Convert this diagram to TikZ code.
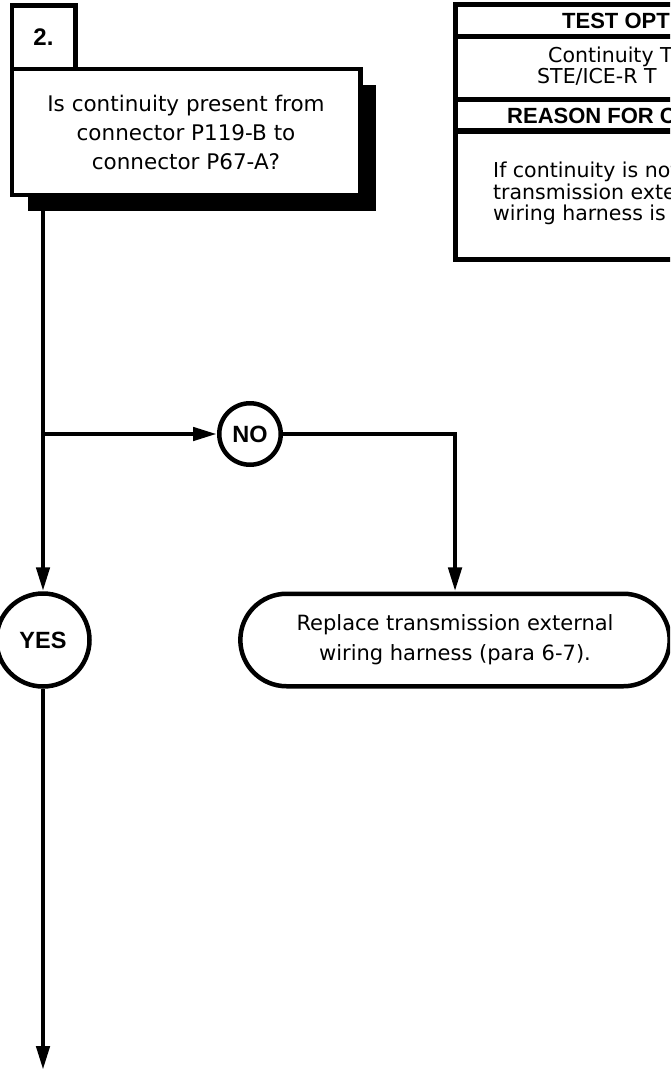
\documentclass[tikz,border=0pt]{standalone}
\usepackage{fontspec}
\setmainfont{DejaVu Sans}
\newfontfamily\headfont{Liberation Sans}
\usetikzlibrary{arrows.meta,shapes.misc,shadows}

\tikzset{
  box/.style={draw, fill=white, line width=4.5pt, outer sep=0pt, align=center},
  answer/.style={circle, draw, fill=white, line width=4.5pt, inner sep=0pt,
    font=\headfont\bfseries\fontsize{23.5}{26}\selectfont},
  flow/.style={line width=4.5pt, -{Triangle[length=24pt,width=13pt]}},
  tablehead/.style={anchor=base west, inner sep=0pt,
    font=\headfont\bfseries\fontsize{22}{24}\selectfont},
  tabletext/.style={anchor=base west, inner sep=0pt, align=left,
    font=\fontsize{20.5}{21.5}\selectfont},
}

\begin{document}
\begin{tikzpicture}[x=1pt,y=-1pt]
    \clip (0,0) rectangle (670,1070);

    % question block with its number tab and the black shadow
    \node[box, minimum width=348.5pt, minimum height=126pt,
      font=\fontsize{21.5}{29}\selectfont,
      drop shadow={shadow xshift=16pt, shadow yshift=-16pt, opacity=1, fill=black}]
      (question) at (186,132) {Is continuity present from\\connector P119-B to\\connector P67-A?};
    \node[box, minimum width=63.5pt, minimum height=63.5pt, anchor=south west,
      font=\headfont\bfseries\fontsize{24}{26}\selectfont] (step) at (question.north west) {2.};

    % test options table, runs past the right edge
    \draw[line width=5pt] (455,5) rectangle (700,259);
    \foreach \y in {36.5, 99.5, 131} {
      \draw[line width=5pt] (455,\y) -- (700,\y);
    }
    \node[tablehead] (opt) at (562,29) {TEST OPT};
    \node[tabletext] (cont) at (548,63) {Continuity T};
    \node[tabletext] (ste) at (537,84) {STE/ICE-R T};
    \node[tablehead] (reason) at (507,124) {REASON FOR C};
    \node[tabletext, anchor=north west] (why) at (493,162)
      {If continuity is not\\transmission exter\\wiring harness is f};

    % answers
    \node[answer, minimum size=93pt] (yes) at (43,640) {YES};
    \node[answer, minimum size=61.5pt] (no) at (250,434) {NO};
    \node[rounded rectangle, draw, line width=4.5pt, minimum width=436pt, minimum height=92.5pt,
      align=center, font=\fontsize{21}{30}\selectfont]
      (replace) at (455,640) {Replace transmission external\\wiring harness (para 6-7).};
    \coordinate (exit) at (43,1070);

    \draw[flow] (question.south -| yes) -- (yes);
    \draw[flow] (yes |- no) -- (no);
    \draw[flow] (no) -| (replace);
    \draw[flow] (yes) -- (exit);
\end{tikzpicture}
\end{document}
